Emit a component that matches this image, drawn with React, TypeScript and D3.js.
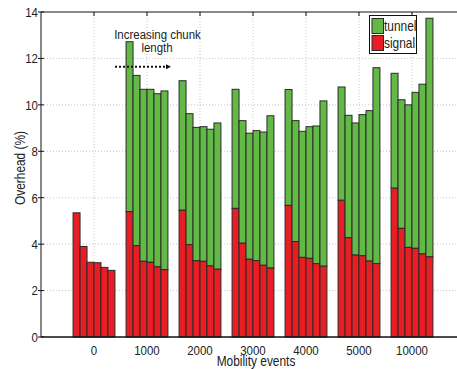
import React from "react";
import * as d3 from "d3";

// Mobility event rates (x categories)
const categories = ["0", "1000", "2000", "3000", "4000", "5000", "10000"];

// Signalling overhead (%) for six increasing chunk lengths per category
const signal: number[][] = [
  [5.35, 3.9, 3.22, 3.2, 3.0, 2.87],
  [5.4, 3.93, 3.26, 3.22, 3.02, 2.9],
  [5.46, 3.98, 3.29, 3.26, 3.06, 2.92],
  [5.54, 4.04, 3.35, 3.29, 3.09, 2.97],
  [5.67, 4.11, 3.43, 3.39, 3.16, 3.05],
  [5.89, 4.28, 3.53, 3.5, 3.27, 3.16],
  [6.41, 4.68, 3.86, 3.82, 3.58, 3.45],
];

// Tunnel overhead (%) stacked on top of the signalling overhead
const tunnel: number[][] = [
  [0, 0, 0, 0, 0, 0],
  [7.32, 7.34, 7.41, 7.45, 7.46, 7.7],
  [5.58, 5.64, 5.74, 5.8, 5.89, 6.3],
  [5.13, 5.28, 5.43, 5.6, 5.74, 6.56],
  [4.99, 5.21, 5.43, 5.67, 5.93, 7.12],
  [4.88, 5.27, 5.69, 6.08, 6.48, 8.44],
  [4.95, 5.54, 6.14, 6.72, 7.31, 10.28],
];

const yTicks = [0, 2, 4, 6, 8, 10, 12, 14];

const W = 457;
const H = 369;
const left = 41;
const top = 12;
const bottom = 337;
const right = 518;

const GREEN = "#63b946";
const RED = "#e81e25";
const EDGE = "#2a2a2a";
const FONT = "'Liberation Sans', Arial, sans-serif";
const SX = 0.85; // horizontal condensing of all labels

type LabelProps = {
  x: number;
  y: number;
  anchor?: "start" | "middle" | "end";
  size?: number;
  rotate?: number;
  dy?: string;
  children: React.ReactNode;
};

// Condensed label: drawn at the origin, then moved, rotated and squeezed
function Label({ x, y, anchor = "start", size = 14, rotate = 0, dy, children }: LabelProps) {
  return (
    <text
      transform={`translate(${x},${y}) rotate(${rotate}) scale(${SX},1)`}
      textAnchor={anchor}
      fontSize={size}
      fill="#222"
      dy={dy}
    >
      {children}
    </text>
  );
}

export default function App() {
  const x = d3.scaleLinear().domain([-1, 8]).range([left, right]);
  const y = d3.scaleLinear().domain([0, 14]).range([bottom, top]);
  const unit = x(1) - x(0);
  const groupW = unit * 0.79;
  const inner = d3
    .scaleBand<number>()
    .domain(d3.range(6))
    .range([-groupW / 2, groupW / 2])
    .padding(0);
  const bw = inner.bandwidth();

  return (
    <svg
      width={W}
      height={H}
      style={{ position: "absolute", left: 0, top: 0, background: "#fff" }}
      fontFamily={FONT}
    >
      <defs>
        <clipPath id="plot">
          <rect x={left} y={top - 1} width={right - left} height={bottom - top + 2} />
        </clipPath>
      </defs>

      {/* grid */}
      <g stroke="#b8b8b8" strokeWidth={0.8} strokeDasharray="1,2" fill="none">
        {yTicks.slice(1, -1).map((t) => (
          <line key={"gy" + t} x1={left} x2={right} y1={y(t)} y2={y(t)} />
        ))}
        {categories.map((c, i) => (
          <line key={"gx" + c} x1={x(i)} x2={x(i)} y1={top} y2={bottom} />
        ))}
      </g>

      {/* stacked bars */}
      <g clipPath="url(#plot)" stroke={EDGE} strokeWidth={1}>
        {categories.map((c, i) =>
          signal[i].map((s, j) => {
            const x0 = x(i) + (inner(j) as number);
            const total = s + tunnel[i][j];
            return (
              <g key={c + "-" + j}>
                {tunnel[i][j] > 0 && (
                  <rect
                    x={x0}
                    y={y(total)}
                    width={bw}
                    height={y(s) - y(total)}
                    fill={GREEN}
                  />
                )}
                <rect x={x0} y={y(s)} width={bw} height={y(0) - y(s)} fill={RED} />
              </g>
            );
          })
        )}
      </g>

      {/* axes frame */}
      <g stroke="#111" fill="none">
        <line x1={left} x2={right} y1={bottom} y2={bottom} strokeWidth={1.4} />
        <line x1={left} x2={right} y1={top} y2={top} strokeWidth={1} />
        <line x1={left} x2={left} y1={top} y2={bottom} strokeWidth={1} />
        {yTicks.map((t) => (
          <line key={"ty" + t} x1={left - 3} x2={left + 3} y1={y(t)} y2={y(t)} />
        ))}
        {categories.map((c, i) => (
          <line key={"tx" + c} x1={x(i)} x2={x(i)} y1={top} y2={top + 4} />
        ))}
      </g>

      {/* tick labels */}
      {yTicks.map((t) => (
        <Label key={"ly" + t} x={left - 3} y={y(t)} dy="0.36em" anchor="end" size={13.5}>
          {t}
        </Label>
      ))}
      {categories.map((c, i) => (
        <Label key={"lx" + c} x={x(i)} y={354.5} anchor="middle" size={13.5}>
          {c}
        </Label>
      ))}

      {/* axis titles */}
      <Label x={256} y={366} anchor="middle" size={14}>
        Mobility events
      </Label>
      <Label x={25} y={168} anchor="middle" size={14} rotate={-90}>
        Overhead (%)
      </Label>

      {/* annotation */}
      <Label x={157.5} y={39} anchor="middle" size={13.5}>
        Increasing chunk
      </Label>
      <Label x={157} y={52} anchor="middle" size={13.5}>
        length
      </Label>
      <line
        x1={115}
        x2={168}
        y1={66.7}
        y2={66.7}
        stroke="#111"
        strokeWidth={2}
        strokeDasharray="2,2"
      />
      <path d="M166,64.2 L171,66.7 L166,69.2 Z" fill="#111" />

      {/* legend */}
      <g>
        <rect x={369.5} y={15.5} width={47} height={38} fill="#fff" stroke="#111" strokeWidth={1} />
        <rect x={372} y={18.5} width={11.5} height={15} fill={GREEN} stroke={EDGE} strokeWidth={1} />
        <rect x={372} y={35.5} width={11.5} height={15} fill={RED} stroke={EDGE} strokeWidth={1} />
        <Label x={384} y={31} size={14}>tunnel</Label>
        <Label x={384} y={47.5} size={14}>signal</Label>
      </g>
    </svg>
  );
}
